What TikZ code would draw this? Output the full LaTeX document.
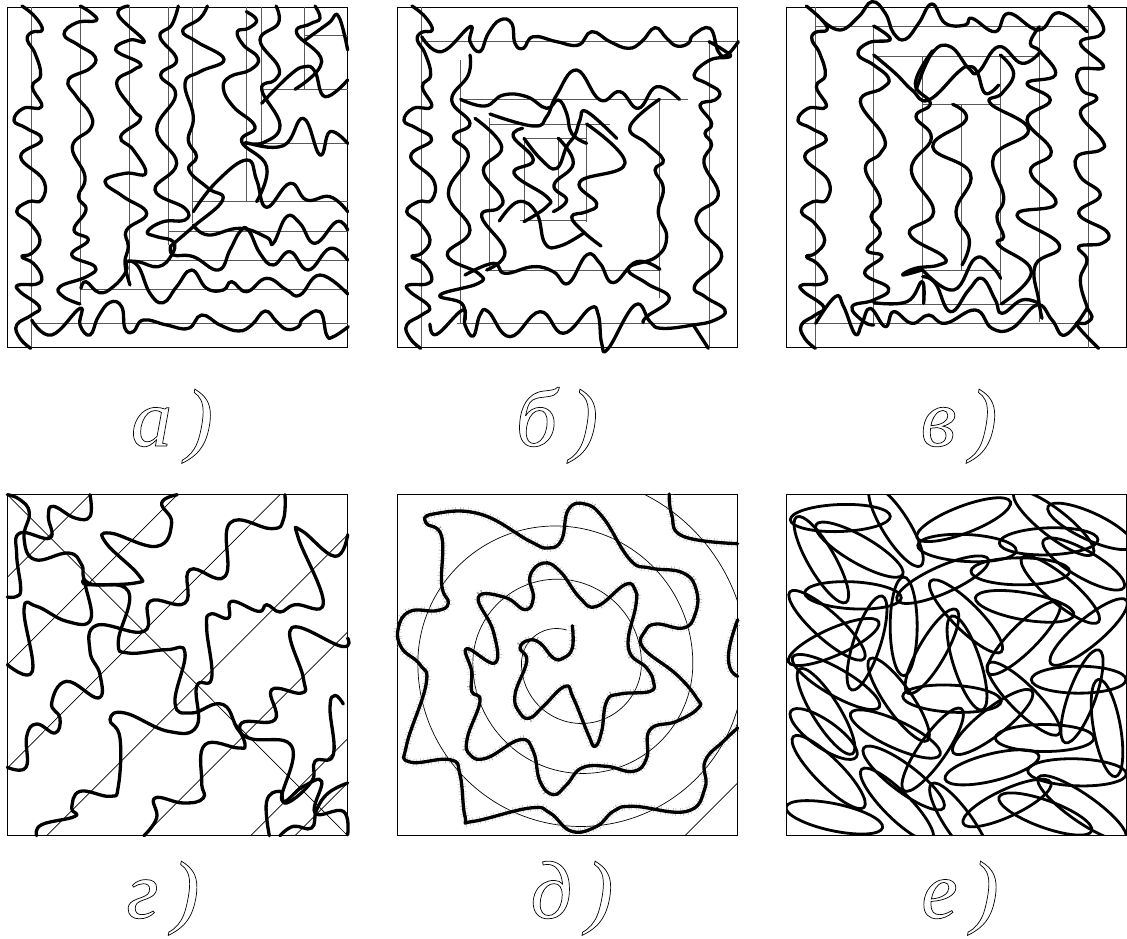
\documentclass[tikz,border=0pt]{standalone}
\usepackage{fontspec}
\setmainfont{Liberation Serif}
\newcommand{\outlinetext}[1]{\special{pdf:code q 1 Tr 0.7 w}#1\special{pdf:code Q}}
\tikzset{
  frameline/.style={draw=black,line width=0.9pt},
  guide/.style={draw=black!65,line width=0.7pt},
  wave/.style={draw=black,line width=3.3pt,line cap=round,line join=round},
  hairy/.style={wave,preaction={draw=black!35,line width=8pt,line cap=butt,dash pattern=on 0.35pt off 4.4pt on 0.35pt off 2.3pt}},
  oval/.style={draw=black,line width=2.8pt},
  panel/.style={x=0.33333pt,y=-0.33333pt},
  caption/.style={font=\fontsize{82}{82}\selectfont\itshape,inner sep=0pt,anchor=base}
}
\newcommand{\wv}[1]{\draw[wave] plot[smooth,tension=0.75] coordinates {#1};}
\newcommand{\ov}[4]{\draw[oval] (#1,#2) circle[x radius=#3/3*1pt,y radius=13.5pt,rotate=#4];}
\begin{document}
\begin{tikzpicture}
\useasboundingbox (0pt,0pt) rectangle (1127pt,-938pt);
% ---------- panel a
\begin{scope}[shift={(0pt,0pt)},panel]
\draw[frameline] (22,22) rectangle (1043,1043);
\foreach \gx/\gy in {95/1043,241/915,387/855,504/735,577/670,739/605,783/430,913/268}{\draw[guide] (\gx,22)--(\gx,\gy);}
\foreach \gy/\gx in {970/95,868/241,780/387,693/504,605/577,430/739,268/783,107/913}{\draw[guide] (\gx,\gy)--(1043,\gy);}
\wv{(66,18)(105,50)(127,90)(95,97)(82,120)(105,160)(122,225)(97,260)(125,320)(70,325)(42,362)(80,385)(125,420)(62,470)(130,540)(125,600)(85,605)(50,635)(90,670)(120,720)(95,760)(65,770)(100,790)(125,830)(110,852)(55,855)(60,875)(118,920)(95,945)(50,975)(60,1015)(92,1045)}
\wv{(95,960)(155,1005)(240,925)(240,975)(270,1005)(295,950)(330,907)(365,920)(375,985)(400,995)(430,960)(500,975)(565,985)(605,945)(660,975)(715,993)(755,975)(795,933)(830,965)(860,988)(895,980)(910,955)(960,935)(980,1005)(1000,1010)(1045,980)}
\wv{(241,18)(275,40)(288,62)(230,68)(192,103)(235,135)(285,170)(270,205)(205,240)(230,290)(270,340)(272,385)(217,440)(255,530)(235,590)(258,630)(222,690)(265,720)(215,765)(285,800)(260,830)(180,860)(190,890)(240,912)}
\wv{(243,865)(258,845)(298,878)(340,860)(378,815)(380,785)(415,800)(450,880)(490,908)(530,860)(575,810)(620,865)(670,870)(695,845)(740,875)(800,835)(860,870)(900,885)(960,825)(1043,882)}
\wv{(385,18)(355,45)(432,122)(390,120)(347,150)(420,190)(400,210)(350,250)(400,330)(420,360)(362,410)(400,450)(437,520)(375,520)(315,545)(370,590)(440,640)(380,690)(385,740)(375,790)(390,855)}
\wv{(535,18)(515,75)(480,110)(530,180)(482,225)(527,285)(470,390)(530,490)(465,570)(555,625)(555,660)(490,665)(442,695)(470,710)(520,725)(515,765)(475,800)(415,785)(380,785)}
\wv{(512,740)(520,765)(580,770)(655,810)(690,750)(720,695)(745,690)(780,760)(820,795)(870,755)(925,810)(990,745)(1043,780)}
\wv{(622,18)(600,55)(548,92)(590,125)(672,178)(600,215)(555,250)(580,350)(565,420)(590,470)(567,510)(625,565)(668,600)(580,680)(510,740)}
\wv{(580,675)(625,705)(720,685)(800,712)(820,730)(860,650)(900,670)(945,730)(1010,665)(1043,690)}
\wv{(739,35)(770,60)(745,85)(712,95)(730,135)(775,175)(750,210)(690,230)(670,265)(700,320)(765,380)(725,425)(800,500)(770,605)}
\wv{(580,635)(650,545)(740,480)(770,540)(800,622)(870,550)(920,600)(990,590)(1043,635)}
\wv{(828,18)(835,70)(780,120)(835,200)(825,240)(785,268)(840,375)(790,428)(738,428)(850,437)(910,355)(960,465)(990,395)(1043,430)}
\wv{(945,18)(960,55)(930,72)(890,100)(965,185)(885,268)}
\wv{(785,310)(870,225)(915,200)(945,215)(975,290)(1043,240)}
\wv{(913,122)(985,70)(1015,48)(1043,150)}
\end{scope}
% ---------- panel b
\begin{scope}[shift={(390pt,0pt)},panel]
\draw[frameline] (22,22) rectangle (1043,1043);
\draw[guide] (95,22)--(95,1043);
\draw[guide] (957,125)--(957,1043);
\draw[guide] (95,125)--(1045,125);
\draw[guide] (212,180)--(212,970);
\draw[guide] (200,970)--(957,970);
\draw[guide] (212,298)--(895,298);
\draw[guide] (808,298)--(808,895);
\draw[guide] (290,810)--(808,810);
\draw[guide] (299,355)--(299,810);
\draw[guide] (299,372)--(660,372);
\draw[guide] (590,372)--(590,665);
\draw[guide] (390,662)--(590,662);
\draw[guide] (402,415)--(402,662);
\draw[guide] (402,415)--(590,415);
\draw[guide] (504,415)--(504,620);
\wv{(66,18)(105,50)(127,90)(95,97)(82,120)(105,160)(122,225)(97,260)(125,320)(70,325)(42,362)(80,385)(125,420)(62,470)(130,540)(125,600)(85,605)(50,635)(90,670)(120,720)(95,760)(65,770)(100,790)(125,830)(110,852)(55,855)(60,875)(118,920)(95,945)(50,975)(60,1015)(92,1045)}
\wv{(95,110)(155,155)(240,80)(240,125)(270,155)(295,100)(330,60)(365,70)(375,130)(400,145)(430,110)(500,125)(565,135)(605,95)(660,125)(715,145)(755,125)(795,83)(830,115)(860,138)(895,130)(910,105)(960,85)(985,155)(1010,165)(1045,125)}
\wv{(957,125)(1000,150)(1020,170)(960,180)(912,225)(950,250)(988,275)(975,300)(930,315)(965,370)(945,400)(965,435)(942,490)(985,585)(925,640)(930,690)(995,770)(915,855)(945,890)(1005,930)(975,960)(910,975)(815,985)(780,965)(735,915)(655,1045)(635,1030)(625,945)(600,925)(520,1000)(450,935)(360,1010)(295,935)(270,945)(250,1008)(225,975)(218,930)(140,1003)(120,972)}
\wv{(910,975)(955,1045)}
\wv{(240,165)(235,225)(185,300)(240,370)(190,410)(235,470)(175,580)(240,690)(172,765)(265,820)(265,850)(150,885)(215,910)(225,960)}
\wv{(212,298)(285,318)(340,285)(410,290)(470,325)(505,300)(530,340)(545,400)(590,430)}
\wv{(300,342)(430,378)(470,350)(500,285)(560,210)(630,300)(690,275)(745,325)(800,260)(868,298)}
\wv{(808,298)(720,380)(770,430)(820,480)(795,510)(820,565)(805,640)(830,710)(800,770)(715,805)(770,850)(838,895)(770,950)(760,968)}
\wv{(225,825)(310,790)(345,820)(430,800)(490,815)(535,850)(590,765)(630,790)(670,848)(740,785)(810,808)}
\wv{(255,355)(335,440)(280,510)(335,590)(325,625)(275,650)(345,755)(290,810)}
\wv{(398,385)(370,410)(430,480)(372,520)(470,590)(470,620)(402,665)}
\wv{(590,372)(705,490)(570,545)(620,610)(590,635)(545,650)(580,695)(633,738)}
\wv{(680,415)(590,335)(570,360)(555,405)(530,440)(500,505)(455,480)(402,415)}
\wv{(505,415)(550,490)(492,555)(530,600)(490,635)}
\wv{(328,663)(385,605)(440,640)(465,730)(510,738)(580,700)}
\end{scope}
% ---------- panel c
\begin{scope}[shift={(772pt,0pt)},panel]
\draw[frameline] (43,22) rectangle (1063,1043);
\foreach \gx/\ga/\gb in {131/22/1043,948/22/1043,305/80/975,802/80/965,452/168/912,686/168/912,569/313/811}{\draw[guide] (\gx,\ga)--(\gx,\gb);}
\foreach \gy/\ga/\gb in {80/131/948,970/90/948,168/305/802,912/305/802,313/452/686,811/452/686}{\draw[guide] (\ga,\gy)--(\gb,\gy);}
\wv{(103,18)(150,60)(165,90)(130,97)(120,120)(143,160)(160,225)(133,260)(163,320)(108,325)(78,362)(118,385)(163,420)(98,470)(168,540)(163,600)(123,605)(88,635)(128,670)(158,720)(130,760)(103,770)(135,790)(163,830)(148,852)(90,855)(95,875)(155,920)(130,945)(88,975)(98,1015)(130,1045)}
\wv{(150,60)(205,90)(260,50)(300,5)(340,40)(365,100)(400,118)(440,70)(480,12)(520,70)(580,75)(600,55)(670,95)(710,40)(800,90)(860,38)(945,95)}
\wv{(950,18)(990,70)(985,105)(925,130)(995,200)(920,210)(930,270)(975,295)(925,340)(990,420)(985,450)(915,470)(925,530)(985,585)(920,640)(1005,695)(990,730)(920,740)(945,780)(925,840)(945,920)(960,950)(940,970)(915,975)(980,1045)}
\wv{(131,970)(190,890)(215,920)(250,1003)(270,970)(295,925)(340,980)(365,935)(420,970)(470,945)(520,970)(610,930)(660,985)(720,985)(795,915)(840,960)(880,1005)(945,925)}
\wv{(305,78)(355,118)(290,128)(258,163)(305,195)(350,235)(330,265)(265,305)(335,410)(325,460)(280,505)(325,600)(297,650)(325,700)(285,750)(330,770)(278,820)(350,865)(305,900)(240,920)(275,965)(305,975)}
\wv{(305,908)(405,905)(450,845)(455,910)}
\wv{(305,165)(370,220)(420,270)(470,300)(560,215)(590,200)(615,215)(640,280)(680,255)}
\wv{(482,152)(430,250)(475,310)(432,350)(478,415)(418,510)(485,635)(412,700)(515,770)(500,795)(430,805)(392,825)(450,810)}
\wv{(802,80)(775,130)(805,155)(850,225)(765,250)(835,300)(765,360)(838,455)(775,515)(852,610)(735,645)(862,735)(790,795)(800,900)(810,955)}
\wv{(432,270)(480,160)(535,140)(590,205)(620,215)(680,140)(750,190)(805,155)}
\wv{(685,165)(725,220)(690,280)(655,310)(770,390)(665,470)(695,590)(675,650)(695,710)(680,735)(778,815)(688,912)}
\wv{(452,810)(545,870)(610,775)(660,800)(686,835)}
\wv{(452,830)(490,850)(535,935)(590,870)(630,835)(670,900)(690,940)(750,900)(800,910)}
\wv{(542,313)(582,360)(482,440)(595,520)(552,635)(592,720)(570,795)}
\end{scope}
% ---------- panel d
\begin{scope}[shift={(0pt,-488pt)},panel]
\draw[frameline] (22,20) rectangle (1043,1043);
\draw[guide,draw=black] (22,20)--(1043,1043);
\draw[guide,draw=black] (22,268)--(270,20);
\draw[guide,draw=black] (22,530)--(532,20);
\draw[guide,draw=black] (22,840)--(840,20);
\draw[guide,draw=black] (140,1043)--(1043,140);
\draw[guide,draw=black] (432,1043)--(1043,432);
\draw[guide,draw=black] (752,1043)--(1043,752);
\draw[guide,draw=black] (885,1043)--(1043,885);
\wv{(22,20)(60,35)(88,75)(72,150)(105,215)(205,195)(245,230)(265,285)(385,310)(355,460)(385,495)(500,485)(555,495)(525,645)(575,675)(670,650)(735,745)(875,775)(845,935)(910,895)(965,880)(945,975)(1030,970)(1043,1040)}
\wv{(270,20)(270,85)(225,90)(160,55)(145,85)(150,150)(60,135)(50,200)(62,300)(50,325)(22,327)}
\wv{(532,20)(485,45)(515,105)(470,175)(330,135)(318,165)(415,260)(405,285)(265,290)(255,285)(272,395)(200,400)(110,355)(72,365)(97,550)(22,530)}
\wv{(855,20)(850,95)(815,122)(690,105)(675,265)(570,245)(555,345)(450,340)(432,430)(290,412)(270,490)(300,560)(295,630)(200,580)(155,645)(180,690)(165,735)(110,708)(80,745)(78,838)(22,838)}
\wv{(1043,140)(1005,205)(905,128)(895,150)(970,345)(885,350)(840,372)(800,350)(775,370)(695,340)(685,390)(632,378)(620,420)(635,570)(590,595)(590,715)(505,730)(375,675)(330,695)(360,750)(355,895)(330,925)(240,910)(215,960)(225,985)(125,1010)(110,1043)}
\wv{(1043,450)(1025,475)(875,420)(910,570)(905,615)(815,605)(825,695)(725,705)(735,770)(715,780)(615,770)(605,880)(610,930)(550,945)(465,930)(470,990)(432,1043)}
\wv{(1030,648)(1005,622)(990,660)(1000,800)(945,820)(935,880)(860,945)(840,910)(800,940)(808,1043)}
\wv{(1043,885)(985,915)(950,965)(935,1020)(880,1015)(840,1043)}
\end{scope}
% ---------- panel e
\begin{scope}[shift={(390pt,-488pt)},panel]
\draw[frameline] (22,20) rectangle (1043,1043);
\begin{scope}
\clip (22,20) rectangle (1043,1043);
\draw[guide,draw=black] (530,426) arc[start angle=73,end angle=180,radius=35pt] arc[start angle=180,end angle=360,radius=60pt] arc[start angle=0,end angle=180,radius=84.3pt] arc[start angle=180,end angle=360,radius=110pt] arc[start angle=0,end angle=180,radius=137.5pt] arc[start angle=180,end angle=360,radius=163pt];
\draw[guide,draw=black] (765,20) arc[start angle=63,end angle=-20,radius=188pt];
\draw[guide,draw=black] (885,1043)--(1043,885);
\end{scope}
\draw[hairy] plot[smooth,tension=0.75] coordinates {(547,413)(547,480)(520,510)(490,510)(450,465)(415,457)(390,480)(410,520)(375,620)(390,675)(420,690)(460,655)(525,595)(550,630)(595,740)(615,775)(635,730)(650,640)(690,618)(780,610)(790,580)(770,540)(715,480)(738,350)(735,305)(705,290)(620,355)(570,330)(510,250)(460,225)(420,265)(430,330)(405,365)(345,328)(265,328)(310,430)(315,525)(230,482)(245,550)(245,610)(270,640)(232,750)(240,800)(290,810)(390,755)(430,790)(450,880)(490,920)(530,890)(575,840)(650,835)(730,850)(770,810)(780,725)(860,700)(925,660)(920,630)(860,560)(760,480)(765,430)(800,408)(880,420)(915,380)(920,310)(880,255)(780,240)(720,215)(640,90)(585,48)(535,65)(515,155)(475,180)(420,160)(270,78)(130,78)(108,105)(155,145)(155,290)(175,345)(140,368)(60,370)(25,420)(35,480)(90,530)(108,590)(50,770)(60,822)(180,815)(210,860)(225,985)(250,1000)(420,960)(480,975)(545,1030)(620,1015)(670,970)(730,955)(890,970)(945,900)(945,820)(1000,760)(1043,720)};
\draw[hairy] plot[smooth,tension=0.75] coordinates {(838,18)(845,80)(880,145)(1043,167)};
\draw[hairy] plot[smooth,tension=0.75] coordinates {(1043,395)(1018,480)(1020,540)(1043,565)};
\end{scope}
% ---------- panel f
\begin{scope}[shift={(772pt,-488pt)},panel]
\draw[frameline] (43,20) rectangle (1063,1043);
\begin{scope}
\clip (43,20) rectangle (1063,1043);
\ov{205}{90}{150}{2}
\ov{148}{215}{148}{-60}
\ov{262}{185}{150}{-30}
\ov{372}{115}{140}{-58}
\ov{575}{95}{150}{21}
\ov{585}{180}{148}{-3}
\ov{830}{160}{148}{2}
\ov{845}{105}{150}{-38}
\ov{955}{115}{140}{-25}
\ov{935}{228}{140}{-30}
\ov{512}{275}{150}{24}
\ov{745}{250}{148}{0}
\ov{865}{305}{150}{-40}
\ov{758}{355}{150}{-10}
\ov{243}{322}{145}{-3}
\ov{395}{415}{148}{90}
\ov{165}{412}{150}{-42}
\ov{185}{462}{148}{24}
\ov{285}{465}{148}{72}
\ov{582}{385}{150}{-45}
\ov{480}{490}{145}{60}
\ov{585}{525}{148}{-72}
\ov{755}{450}{150}{45}
\ov{950}{432}{148}{40}
\ov{920}{575}{142}{0}
\ov{930}{625}{148}{70}
\ov{1005}{720}{148}{-80}
\ov{192}{582}{150}{-30}
\ov{380}{635}{150}{-55}
\ov{540}{632}{148}{-3}
\ov{755}{632}{150}{-45}
\ov{162}{670}{150}{-58}
\ov{662}{702}{150}{38}
\ov{370}{738}{148}{-25}
\ov{155}{738}{120}{-35}
\ov{482}{785}{150}{55}
\ov{818}{750}{148}{0}
\ov{660}{838}{145}{14}
\ov{915}{853}{148}{-2}
\ov{170}{852}{150}{-45}
\ov{395}{870}{150}{-37}
\ov{375}{950}{150}{-45}
\ov{187}{988}{148}{-12}
\ov{705}{945}{145}{25}
\ov{820}{978}{148}{-20}
\ov{930}{960}{160}{-35}
\ov{565}{1010}{150}{-55}
\end{scope}
\end{scope}
% ---------- captions
\node[caption] (capa) at (172pt,-446pt) {\outlinetext{а\,)}};
\node[caption] (capb) at (557pt,-446pt) {\outlinetext{б\,)}};
\node[caption] (capc) at (959pt,-446pt) {\outlinetext{в\,)}};
\node[caption] (capd) at (163pt,-918pt) {\outlinetext{г\,)}};
\node[caption] (cape) at (572pt,-918pt) {\outlinetext{д\,)}};
\node[caption] (capf) at (960pt,-918pt) {\outlinetext{е\,)}};
\end{tikzpicture}
\end{document}
